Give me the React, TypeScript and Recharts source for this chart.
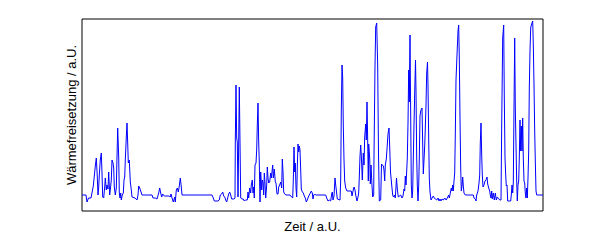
import { LineChart, Line, XAxis, YAxis, ReferenceArea } from "recharts";

// Zeit (a.U.) – Abtastpunkte
const zeit = [
  // 0 – 70
  0, 4, 5, 6.5, 9, 11.3, 13.3, 14.3, 15.3, 16,
  16.7, 17.3, 18.3, 19.3, 20, 20.7, 21.7, 22.7, 23.3, 24.3,
  25, 26, 26.7, 27.7, 28.7, 29.3, 30, 31, 31.7, 32.3,
  33.3, 34.3, 35, 35.7, 36.7, 37.3, 38, 38.7, 39.3, 40.3,
  41.3, 42, 42.7, 43.3, 44.3, 45, 45.7, 46.3, 47.3, 48.3,
  49.3, 50, 53, 55, 56, 56.7, 57.7, 58.7, 60, 70,
  // 71 – 130
  71, 73.3, 75, 76.7, 77.7, 78.7, 79.7, 80.7, 82.3, 87.3,
  88.3, 89, 90, 91.3, 92.7, 93.3, 94.3, 95.3, 96.3, 97.3,
  98.3, 99.3, 100, 130,
  // 131 – 194
  131.3, 132.3, 136, 137.3, 138.3, 139.7, 140.7, 141.7, 142.7, 143.7,
  144.7, 145.7, 146.7, 147.7, 148.7, 149.7, 152, 153, 153.3, 154,
  154.7, 155.3, 156, 156.7, 157.3, 158, 158.7, 160, 161.3, 162.3,
  163.3, 165.3, 166, 166.7, 167.7, 168.7, 169.3, 170.3, 171, 171.7,
  172.3, 173, 174, 174.7, 175.3, 176, 176.7, 177.3, 178, 178.7,
  179.7, 180.3, 181, 181.7, 182.3, 183, 183.7, 184.7, 185.3, 186,
  186.7, 187.7, 188.7, 189.3, 190, 190.7, 191.3, 192.3, 193.3, 194,
  // 195 – 258
  195, 196, 196.7, 197.7, 198.7, 199.7, 200.3, 201, 201.7, 202.7,
  204, 208, 208.7, 209.7, 210.7, 211.3, 212, 212.7, 213.3, 214,
  214.7, 215.3, 216, 216.7, 217.3, 218, 218.7, 219.3, 220.3, 221.3,
  222.3, 223.3, 224.3, 225.3, 226.3, 227.3, 228.3, 229.3, 230.3, 231,
  231.7, 232.7, 233.7, 243.7, 244.7, 246, 247.3, 248.7, 249.7, 250.3,
  251, 252, 253, 253.7, 254.3, 255.3, 258,
  // 258.7 – 321
  258.7, 259.3, 260, 260.7, 261.3, 262, 262.7, 263.7, 265, 269.3,
  270, 271, 272, 273, 273.7, 275, 276, 276.7, 277.3, 278,
  278.7, 279.3, 280.3, 281.3, 282, 282.7, 283.7, 284.3, 285, 285.7,
  286.3, 286.7, 287.7, 288.3, 289, 290, 290.7, 291.7, 292, 293,
  293.7, 294.7, 295.7, 296.5, 297.3, 298.7, 299.5, 300.3, 301.3, 302,
  302.7, 303.3, 304.3, 305, 306, 307, 307.7, 308.5, 309.7, 310.7,
  311.5, 312.5, 313.3, 314.5, 315.3, 316.3, 318.7, 320, 321,
  // 322 – 391
  322, 322.7, 323.3, 324, 324.7, 325.3, 326, 326.7, 327.3, 328,
  328.7, 329.3, 330, 330.7, 331.3, 332, 332.7, 333.5, 334, 334.7,
  335.3, 336, 336.7, 337.3, 338, 338.7, 339.5, 340, 340.7, 341.3,
  342, 342.7, 343.3, 344, 344.7, 345.5, 346, 346.7, 347.3, 348,
  349, 350, 351.3, 352.3, 353.3, 354.7, 356, 357, 358, 359,
  360, 361.3, 362.7, 364, 365.3, 366.7, 367.3, 368.3, 369.3, 370,
  370.7, 371.3, 372, 372.7, 373.3, 374, 375, 376, 376.7, 377.3,
  378, 378.7, 379.3, 380, 380.7, 381.3, 382, 383.3, 391.3,
  // 392 – 461
  392, 393.3, 394, 394.7, 396, 397, 397.7, 398.3, 399, 399.7,
  400.3, 401, 402, 403, 404, 405, 405.7, 406.7, 407.7, 408.3,
  409, 409.7, 410.3, 411.3, 412.3, 413.3, 414.3, 415.3, 416.7, 418,
  419, 419.7, 420.7, 421.7, 422.3, 423, 423.7, 424.3, 425, 425.7,
  428.7, 429.3, 430, 430.7, 431.3, 432, 432.7, 433.3, 434, 434.7,
  435.3, 436, 436.7, 437.3, 438, 438.7, 439.3, 440, 440.7, 441.3,
  442, 442.7, 443.3, 444, 444.7, 445.3, 446, 446.7, 447.3, 448,
  448.7, 449.3, 450, 450.7, 451.3, 452, 452.7, 453.3, 454, 454.7,
  461,
];

// Wärmefreisetzung (a.U.)
const waerme = [
  16, 16, 9, 13, 13, 25, 45, 53, 34, 16,
  24, 36, 51, 58, 38, 14, 13, 24, 33, 21,
  26, 22, 39, 16, 25, 31, 51, 48, 43, 24,
  16, 23, 54, 83, 54, 18, 13, 18, 11, 16,
  18, 31, 34, 51, 74, 88, 68, 48, 51, 29,
  21, 14, 13, 11, 16, 25, 23, 20, 16, 16,

  13, 13, 12, 18, 23, 18, 14, 17, 15, 15,
  14, 17, 13, 9, 14, 9, 21, 23, 19, 25,
  33, 24, 16, 16,

  13, 10, 10, 11, 16, 17, 19, 15, 14, 11,
  9, 13, 17, 19, 16, 12, 12, 13, 69, 126,
  73, 69, 14, 69, 124, 69, 13, 12, 12, 10,
  11, 11, 19, 13, 23, 18, 26, 31, 18, 24,
  13, 46, 48, 61, 86, 108, 69, 48, 9, 39,
  21, 31, 28, 16, 38, 28, 13, 26, 44, 33,
  28, 29, 38, 33, 39, 46, 33, 42, 29, 28,

  17, 17, 24, 26, 29, 23, 52, 39, 19, 17,
  16, 16, 15, 14, 13, 31, 64, 39, 48, 23,
  14, 44, 67, 59, 65, 61, 41, 22, 19, 18,
  15, 13, 9, 11, 14, 16, 18, 20, 18, 12,
  16, 17, 16, 16, 13, 10, 11, 10, 17, 19,
  11, 15, 33, 26, 21, 12, 11,

  31, 100, 146, 133, 85, 51, 30, 23, 20, 20,
  15, 20, 24, 21, 16, 10, 14, 18, 34, 55,
  66, 56, 31, 58, 46, 74, 87, 71, 109, 70,
  30, 67, 53, 27, 46, 25, 14, 16, 55, 145,
  184, 188, 145, 57, 10, 11, 47, 46, 45, 41,
  30, 46, 52, 62, 77, 83, 64, 39, 26, 16,
  14, 16, 13, 33, 22, 14, 16, 13, 15,

  22, 20, 35, 26, 40, 53, 88, 141, 109, 176,
  95, 26, 13, 20, 53, 86, 118, 151, 120, 54,
  26, 10, 25, 53, 95, 100, 102, 103, 67, 37,
  51, 65, 83, 106, 138, 149, 126, 73, 33, 19,
  11, 13, 15, 13, 12, 11, 13, 10, 12, 10,
  12, 11, 13, 11, 13, 16, 13, 18, 23, 20,
  26, 20, 30, 38, 76, 131, 156, 180, 186, 153,
  93, 43, 20, 25, 34, 25, 18, 16, 16,

  13, 12, 10, 16, 20, 28, 36, 68, 88, 56,
  36, 24, 26, 30, 31, 34, 27, 23, 20, 16,
  13, 20, 12, 18, 11, 18, 11, 14, 12, 11,
  11, 86, 173, 186, 113, 53, 36, 25, 26, 10,
  10, 16, 26, 18, 28, 103, 173, 103, 66, 30,
  10, 26, 30, 53, 91, 60, 85, 60, 93, 53,
  30, 28, 18, 13, 23, 13, 33, 60, 123, 160,
  183, 186, 188, 190, 166, 126, 80, 50, 20, 16,
  16,
];

const data = zeit.map((t, i) => ({ t, w: waerme[i] }));

const FONT = '"Liberation Sans", Arial, sans-serif';

export default function App() {
  return (
    <div style={{ position: "absolute", left: 0, top: 0 }}>
      <LineChart
        width={598}
        height={240}
        data={data}
        margin={{ top: 19, right: 55, bottom: 0, left: 0 }}
        style={{ fontFamily: FONT }}
      >
        <XAxis
          dataKey="t"
          type="number"
          domain={[0, 461]}
          tick={false}
          tickLine={false}
          axisLine={false}
          height={29}
          label={{ value: "Zeit / a.U.", position: "insideBottom", offset: 9, fill: "#000", fontSize: 13 }}
        />
        <YAxis
          type="number"
          domain={[0, 192]}
          tick={false}
          tickLine={false}
          axisLine={false}
          width={82}
          label={{ value: "Wärmefreisetzung / a.U.", angle: -90, position: "center", dx: 30, fill: "#000", fontSize: 13 }}
        />
        <Line
          dataKey="w"
          type="linear"
          stroke="#0000ff"
          strokeWidth={1}
          dot={false}
          isAnimationActive={false}
        />
        <ReferenceArea x1={0} x2={461} y1={0} y2={192} fill="none" fillOpacity={0} stroke="#000" strokeWidth={1} />
      </LineChart>
    </div>
  );
}
